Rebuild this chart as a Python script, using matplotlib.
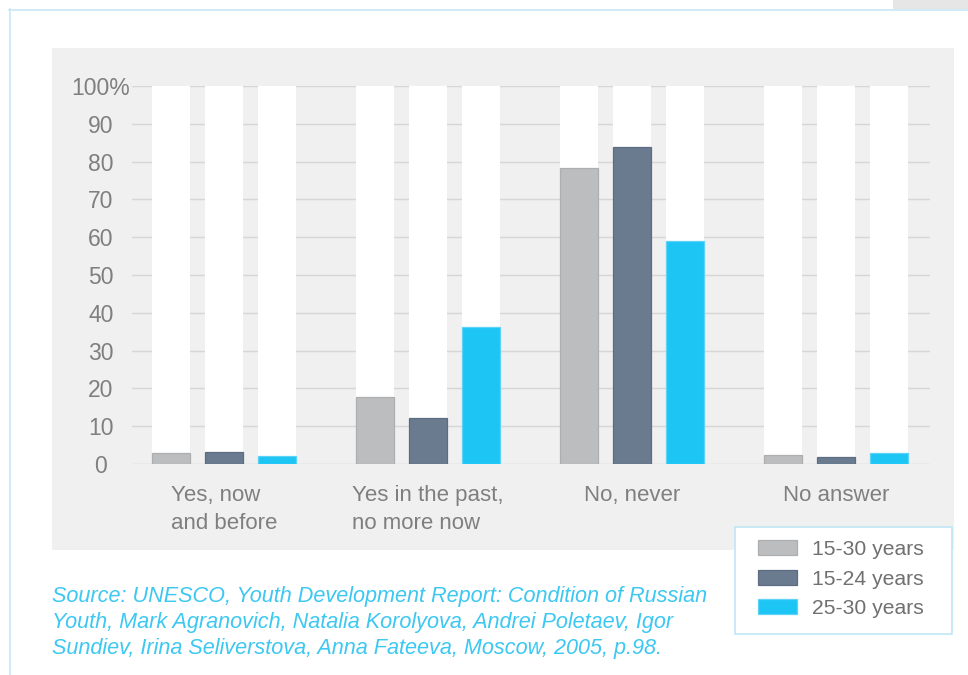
import matplotlib
matplotlib.use("Agg")
import matplotlib.pyplot as plt
from matplotlib.patches import Rectangle, Patch
import numpy as np

plt.rcParams['font.family'] = ['Liberation Sans', 'DejaVu Sans']

categories = ["Yes, now\nand before", "Yes in the past,\nno more now", "No, never", "No answer"]
series_names = ["15-30 years", "15-24 years", "25-30 years"]
s_15_30 = [2.9, 17.8, 78.3, 2.4]
s_15_24 = [3.2, 12.3, 83.9, 1.9]
s_25_30 = [2.1, 36.3, 59.0, 2.9]
yticks = [0, 10, 20, 30, 40, 50, 60, 70, 80, 90, 100]
ytick_labels = ["0", "10", "20", "30", "40", "50", "60", "70", "80", "90", "100%"]
source = ("Source: UNESCO, Youth Development Report: Condition of Russian\n"
          "Youth, Mark Agranovich, Natalia Korolyova, Andrei Poletaev, Igor\n"
          "Sundiev, Irina Seliverstova, Anna Fateeva, Moscow, 2005, p.98.")

colors = ["#BCBDBF", "#6A7A8F", "#1DC5F4"]
edges = ["#ADAEB0", "#5C6D82", "#5CD3F6"]

W, H = 968, 675
dpi = 100
fig = plt.figure(figsize=(W / dpi, H / dpi), dpi=dpi)
fig.patch.set_facecolor("white")

def fx(px):
    return px / W

def fy(py):
    return 1 - py / H

# outer frame
fig.add_artist(plt.Line2D([fx(9), 1], [fy(9.5), fy(9.5)], color="#C8E8F5", lw=1.2))
fig.add_artist(plt.Line2D([fx(9.5), fx(9.5)], [fy(9), 0], color="#C8E8F5", lw=1.2))
fig.add_artist(Rectangle((fx(893), fy(9)), fx(968 - 893), 9 / H, color="#E6E6E6", lw=0))

# grey panel
fig.add_artist(Rectangle((fx(52), fy(550)), fx(902), 502 / H, facecolor="#F0F0F0", lw=0, zorder=0))

ax = fig.add_axes([fx(132), fy(464), fx(930 - 132), (464 - 86) / H])
ax.set_facecolor("none")
ax.set_zorder(2)

x = np.arange(len(categories))
bw = 38 / 204
off = 53 / 204
data = [s_15_30, s_15_24, s_25_30]
for i, (vals, c, e) in enumerate(zip(data, colors, edges)):
    pos = x + (i - 1) * off
    ax.bar(pos, [100] * len(vals), width=bw, color="white", zorder=2, lw=0)
    ax.bar(pos, vals, width=bw, color=c, edgecolor=e, lw=0.9, zorder=3, label=series_names[i])

ax.set_xlim(-0.45, 3.46)
ax.set_ylim(0, 100)
ax.set_yticks(yticks)
ax.set_yticklabels(ytick_labels)
ax.yaxis.grid(True, color="#D6D6D6", lw=1.0)
ax.set_axisbelow(True)
for s in ax.spines.values():
    s.set_visible(False)
ax.tick_params(axis="y", length=0, pad=22.5, labelsize=16.5, labelcolor="#7F7F7F")
for lbl in ax.get_yticklabels():
    lbl.set_horizontalalignment("center")
ax.set_xticks(x + 0.0)
ax.set_xticklabels([])
ax.tick_params(axis="x", length=0)

for xi, cat in zip(x, categories):
    ax.text(xi, -5.6, cat, ha="center", va="top", multialignment="left",
            fontsize=16, color="#7F7F7F", linespacing=1.42, clip_on=False)

# legend box
fig.add_artist(Rectangle((fx(735), fy(634)), fx(217), 107 / H, facecolor="white",
                         edgecolor="#BFE6F5", lw=1.2, zorder=5))
handles = [Patch(facecolor=c, edgecolor=e, lw=0.9) for c, e in zip(colors, edges)]
leg = fig.legend(handles, series_names, loc="upper left", bbox_to_anchor=(fx(758), fy(540)),
                 frameon=False, fontsize=15.2, handlelength=1.85, handleheight=0.7,
                 handletextpad=0.7, labelspacing=0.5, borderaxespad=0, borderpad=0)
for t in leg.get_texts():
    t.set_color("#707070")
leg.set_zorder(6)

fig.text(fx(52), fy(586), source, ha="left", va="top", fontsize=15.6, style="italic",
         color="#3CC8F2", linespacing=1.31)

fig.savefig("out.png", dpi=dpi)
